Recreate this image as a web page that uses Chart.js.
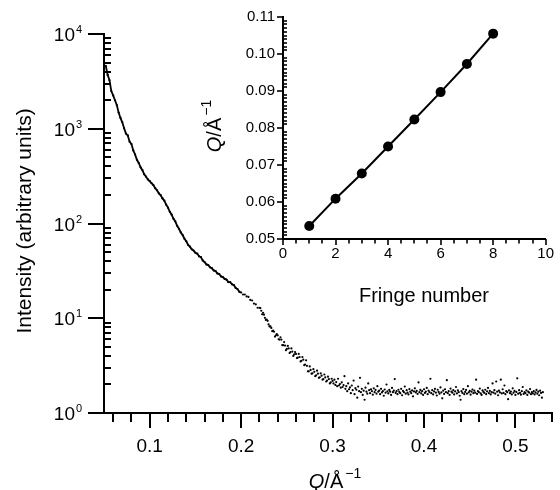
<!DOCTYPE html>
<html lang="en">
<head>
<meta charset="UTF-8">
<title>Scattered intensity vs Q</title>
<script src="https://cdn.jsdelivr.net/npm/chart.js"></script>
<style>
    body { margin: 0; background: #fff; }
    .wrap { position: relative; width: 560px; height: 490px; }
    #mainChart { position: absolute; left: 0; top: 0; }
    #insetChart { position: absolute; left: 200px; top: 0; }
</style>
</head>
<body>
<div class="wrap">
    <canvas id="mainChart" width="560" height="490"></canvas>
    <canvas id="insetChart" width="360" height="320"></canvas>
</div>
<script>
// ---- data ----
// main curve, Q = 0.052 ... 0.300 every 0.002
const qMainStart = 0.052, qMainStep = 0.002;
const intensityMain = [
    4600, 3700, 3250, 2500, 2250, 2000, 1780, 1480, 1300, 1170,
    1010, 890, 850, 730, 690, 590, 535, 470, 435, 392,
    365, 330, 312, 292, 280, 266, 254, 236, 224, 208,
    199, 184, 174, 158, 147, 133, 124, 112, 105, 94.5,
    88, 80.5, 75.5, 69, 65, 59.5, 57, 53.5, 51.8, 49,
    48, 45, 44.2, 40.8, 39.2, 37, 36.4, 34.5, 33.8, 32,
    31.5, 29.7, 29.3, 27.6, 27.2, 26, 25.6, 24.1, 24, 22.8,
    22.4, 20.9, 20.3, 19, 18.7, 17.8, 17.8, 17.0, 16.8, 15.6,
    15.4, 14.3, 14.0, 12.9, 12.9, 12.0, 11.4, 10.1, 9.7, 8.6,
    8.2, 7.3, 7.2, 6.6, 6.6, 5.95, 5.95, 5.2, 5.15, 4.75,
    4.8, 4.4, 4.45, 4.15, 4.2, 3.85, 3.9, 3.55, 3.65, 3.25,
    3.15, 2.75, 2.85, 2.62, 2.72, 2.5, 2.6, 2.38, 2.48, 2.28,
    2.38, 2.2, 2.28, 2.1, 2.18
];
// extra scattered points on the drop, Q = 0.221 ... 0.299 every 0.002
const qDropStart = 0.221, qDropStep = 0.002;
const intensityDrop = [
    12.8, 11.0, 10.9, 9.6, 9.4, 8.2, 7.9, 7.4, 6.4, 6.8,
    6.0, 6.3, 5.2, 5.6, 4.6, 5.1, 4.3, 4.8, 4.0, 4.4,
    3.8, 4.2, 3.5, 3.9, 3.2, 3.6, 2.75, 3.1, 2.6, 2.9,
    2.45, 2.8, 2.35, 2.62, 2.25, 2.55, 2.15, 2.42, 2.05, 2.3
];
// background tail, Q = 0.301 ... 0.530 every 0.001
const qTailStart = 0.301, qTailStep = 0.001;
const intensityTail = [
    2.05, 2.25, 1.98, 2.12, 1.92, 2.30, 1.95, 2.02, 1.85, 2.10,
    1.88, 1.97, 2.45, 1.80, 1.92, 1.70, 2.05, 1.78, 1.86, 1.62,
    1.95, 1.74, 2.20, 1.58, 1.83, 1.76, 1.45, 1.90, 1.70, 2.35,
    1.66, 1.80, 1.55, 1.72, 1.38, 1.85, 1.68, 1.60, 2.05, 1.74,
    1.62, 1.78, 1.70, 1.56, 1.82, 1.66, 1.75, 1.60, 1.92, 1.68,
    1.72, 1.58, 1.80, 1.65, 1.70, 1.52, 1.77, 1.64, 2.00, 1.69,
    1.61, 1.75, 1.68, 1.55, 1.84, 1.66, 1.72, 2.28, 1.63, 1.70,
    1.58, 1.76, 1.67, 1.62, 1.80, 1.54, 1.71, 1.66, 1.90, 1.60,
    1.74, 1.64, 1.57, 1.79, 1.68, 1.62, 1.73, 1.50, 1.69, 1.82,
    1.65, 1.71, 1.59, 2.10, 1.66, 1.75, 1.61, 1.70, 1.55, 1.78,
    1.63, 1.68, 1.84, 1.58, 1.72, 1.66, 2.30, 1.62, 1.74, 1.57,
    1.69, 1.80, 1.64, 1.53, 1.76, 1.67, 1.60, 1.86, 1.65, 1.43,
    1.72, 1.59, 1.78, 1.66, 2.22, 1.62, 1.70, 1.55, 1.81, 1.68,
    1.64, 1.74, 1.57, 1.69, 1.88, 1.61, 1.73, 1.66, 1.52, 1.38,
    1.70, 1.63, 1.79, 1.58, 1.67, 1.75, 1.60, 1.92, 1.65, 1.71,
    1.56, 1.68, 1.77, 1.62, 1.72, 1.64, 2.25, 1.59, 1.70, 1.66,
    1.81, 1.61, 1.55, 1.73, 1.67, 1.63, 1.76, 1.58, 1.69, 1.84,
    1.62, 1.71, 1.57, 1.66, 2.05, 1.64, 1.74, 1.60, 2.15, 1.68,
    1.54, 1.72, 1.65, 2.25, 1.61, 1.78, 1.63, 1.95, 1.58, 1.70,
    1.66, 1.40, 1.73, 1.62, 1.68, 1.57, 1.82, 1.64, 1.71, 1.55,
    1.67, 2.32, 1.60, 1.74, 1.63, 1.56, 1.70, 1.88, 1.59, 1.66,
    1.62, 1.73, 1.55, 1.68, 1.64, 1.79, 1.58, 1.66, 1.61, 1.70,
    1.57, 1.65, 1.75, 1.60, 1.68, 1.54, 1.72, 1.63, 1.45, 1.66
];
// inset: fringe positions
const fringeNumber = [1, 2, 3, 4, 5, 6, 7, 8];
const fringeQ = [0.0535, 0.0609, 0.0677, 0.0750, 0.0823, 0.0897, 0.0973, 0.1055];

// tick labels
const mainXTicks = [0.1, 0.2, 0.3, 0.4, 0.5];
const mainYTicks = [1, 10, 100, 1000, 10000];
const insetXTicks = [0, 2, 4, 6, 8, 10];
const insetYTicks = [0.05, 0.06, 0.07, 0.08, 0.09, 0.10, 0.11];

const FONT = '"Liberation Sans", Arial, Helvetica, sans-serif';

function toPoints(start, step, values) {
    return values.map((v, i) => ({ x: +(start + i * step).toFixed(4), y: v }));
}

// minor tick positions
const mainXMinor = [];
for (let k = 3; k <= 27; k++) {
    const v = +(k * 0.02).toFixed(2);
    if (Math.abs(v * 10 - Math.round(v * 10)) > 1e-6) mainXMinor.push(v);
}
const mainYMinor = [];
[1, 10, 100, 1000].forEach(d => { for (let k = 2; k <= 9; k++) mainYMinor.push(k * d); });
const insetXMinor = [];
for (let k = 1; k < 20; k++) if (k % 4 !== 0) insetXMinor.push(k * 0.5);
const insetYMinor = [];
for (let k = 51; k < 110; k++) if (k % 10 !== 0) insetYMinor.push(k / 1000);

// draws tick marks (major / minor, in or out) along the chart area edges
const tickMarks = {
    id: 'tickMarks',
    afterDraw(chart, args, opts) {
        const ctx = chart.ctx, area = chart.chartArea;
        ctx.save();
        ctx.strokeStyle = '#000';
        (opts.axes || []).forEach(a => {
            const scale = chart.scales[a.id];
            ctx.lineWidth = a.width;
            const draw = (vals, len) => vals.forEach(v => {
                const p = Math.round(scale.getPixelForValue(v));
                ctx.beginPath();
                if (scale.isHorizontal()) {
                    ctx.moveTo(p, area.bottom);
                    ctx.lineTo(p, area.bottom + len);
                } else {
                    ctx.moveTo(area.left, p);
                    ctx.lineTo(area.left + len, p);
                }
                ctx.stroke();
            });
            draw(a.major, a.majorLen);
            draw(a.minor, a.minorLen);
        });
        ctx.restore();
    }
};

function drawQLabel(ctx, cx, baseY, size) {
    const big = size + 'px ' + FONT, small = Math.round(size * 0.68) + 'px ' + FONT;
    ctx.font = 'italic ' + big; const wQ = ctx.measureText('Q').width;
    ctx.font = big; const wA = ctx.measureText('/Å').width;
    ctx.font = small; const wE = ctx.measureText('\u22121').width;
    let x = cx - (wQ + wA + 2 + wE) / 2;
    ctx.textAlign = 'left';
    ctx.textBaseline = 'alphabetic';
    ctx.font = 'italic ' + big; ctx.fillText('Q', x, baseY); x += wQ;
    ctx.font = big; ctx.fillText('/Å', x, baseY); x += wA + 2;
    ctx.font = small; ctx.fillText('\u22121', x, baseY - size * 0.48);
}

const mainText = {
    id: 'mainText',
    afterDraw(chart) {
        const ctx = chart.ctx, y = chart.scales.y;
        ctx.save();
        ctx.fillStyle = '#000';
        mainYTicks.forEach(v => {
            const p = y.getPixelForValue(v);
            ctx.font = '19px ' + FONT;
            ctx.textAlign = 'right';
            ctx.textBaseline = 'middle';
            ctx.fillText('10', 75, p + 2);
            ctx.font = '11px ' + FONT;
            ctx.textAlign = 'left';
            ctx.fillText(String(Math.round(Math.log10(v))), 76, p - 4);
        });
        ctx.save();
        ctx.translate(31, 221);
        ctx.rotate(-Math.PI / 2);
        ctx.font = '21px ' + FONT;
        ctx.textAlign = 'center';
        ctx.textBaseline = 'alphabetic';
        ctx.fillText('Intensity (arbitrary units)', 0, 0);
        ctx.restore();
        drawQLabel(ctx, 335, 488, 20);
        ctx.restore();
    }
};

const insetText = {
    id: 'insetText',
    afterDraw(chart) {
        const ctx = chart.ctx;
        ctx.save();
        ctx.fillStyle = '#000';
        ctx.font = '20px ' + FONT;
        ctx.textAlign = 'center';
        ctx.textBaseline = 'alphabetic';
        ctx.fillText('Fringe number', 224, 302);
        ctx.translate(21, 126);
        ctx.rotate(-Math.PI / 2);
        drawQLabel(ctx, 0, 0, 20);
        ctx.restore();
    }
};

const dotStyle = {
    showLine: false,
    pointRadius: 1.1,
    pointBackgroundColor: '#000',
    pointBorderWidth: 0
};

new Chart(document.getElementById('mainChart'), {
    type: 'scatter',
    data: {
        datasets: [
            Object.assign({}, dotStyle, {
                data: toPoints(qMainStart, qMainStep, intensityMain),
                showLine: true,
                borderColor: '#000',
                borderWidth: 1.8,
                segment: {
                    borderColor: c => c.p0.parsed.x >= 0.2 ? 'rgba(0,0,0,0)' : '#000'
                }
            }),
            Object.assign({}, dotStyle, { data: toPoints(qDropStart, qDropStep, intensityDrop) }),
            Object.assign({}, dotStyle, { data: toPoints(qTailStart, qTailStep, intensityTail) })
        ]
    },
    options: {
        responsive: false,
        animation: false,
        events: [],
        layout: { padding: { left: 0, right: 8, top: 34, bottom: 0 } },
        plugins: {
            legend: { display: false },
            tooltip: { enabled: false },
            tickMarks: {
                axes: [
                    { id: 'x', width: 2, major: mainXTicks, majorLen: 15, minor: mainXMinor, minorLen: 9 },
                    { id: 'y', width: 2, major: mainYTicks, majorLen: -16, minor: mainYMinor, minorLen: 7 }
                ]
            }
        },
        scales: {
            x: {
                type: 'linear',
                min: 0.05,
                max: 0.54,
                afterFit: s => { s.height = 77; },
                afterBuildTicks: s => { s.ticks = mainXTicks.map(v => ({ value: v })); },
                grid: { display: false, drawTicks: false },
                border: { display: true, width: 2, color: '#000' },
                ticks: {
                    color: '#000',
                    font: { size: 19, family: FONT },
                    padding: 22,
                    maxRotation: 0,
                    autoSkip: false,
                    callback: v => String(v)
                }
            },
            y: {
                type: 'logarithmic',
                min: 1,
                max: 10000,
                afterFit: s => { s.width = 104; },
                grid: { display: false, drawTicks: false },
                border: { display: true, width: 2, color: '#000' },
                ticks: { display: false }
            }
        }
    },
    plugins: [tickMarks, mainText]
});

new Chart(document.getElementById('insetChart'), {
    type: 'scatter',
    data: {
        datasets: [{
            data: fringeNumber.map((f, i) => ({ x: f, y: fringeQ[i] })),
            showLine: true,
            borderColor: '#000',
            borderWidth: 2,
            pointRadius: 5,
            pointBackgroundColor: '#000',
            pointBorderWidth: 0
        }]
    },
    options: {
        responsive: false,
        animation: false,
        events: [],
        layout: { padding: { left: 0, right: 11, top: 17, bottom: 0 } },
        plugins: {
            legend: { display: false },
            tooltip: { enabled: false },
            tickMarks: {
                axes: [
                    { id: 'x', width: 1.6, major: insetXTicks, majorLen: 6, minor: insetXMinor, minorLen: 4.5 },
                    { id: 'y', width: 1.6, major: insetYTicks, majorLen: -6, minor: insetYMinor, minorLen: 4 }
                ]
            }
        },
        scales: {
            x: {
                type: 'linear',
                min: 0,
                max: 10,
                afterFit: s => { s.height = 81; },
                afterBuildTicks: s => { s.ticks = insetXTicks.map(v => ({ value: v })); },
                grid: { display: false, drawTicks: false },
                border: { display: true, width: 2, color: '#000' },
                ticks: {
                    color: '#000',
                    font: { size: 15, family: FONT },
                    padding: 6,
                    maxRotation: 0,
                    autoSkip: false
                }
            },
            y: {
                type: 'linear',
                min: 0.05,
                max: 0.11,
                afterFit: s => { s.width = 83; },
                afterBuildTicks: s => { s.ticks = insetYTicks.map(v => ({ value: v })); },
                grid: { display: false, drawTicks: false },
                border: { display: true, width: 2, color: '#000' },
                ticks: {
                    color: '#000',
                    font: { size: 15, family: FONT },
                    padding: 8,
                    callback: v => v.toFixed(2)
                }
            }
        }
    },
    plugins: [tickMarks, insetText]
});
</script>
</body>
</html>
